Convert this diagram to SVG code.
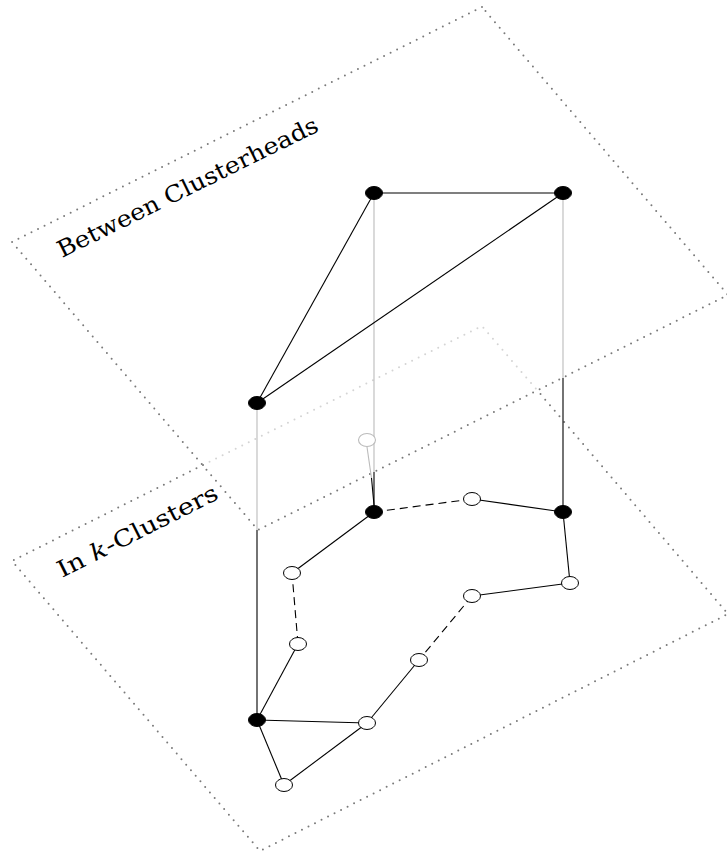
<svg xmlns="http://www.w3.org/2000/svg" width="727" height="855" viewBox="0 0 727 855">
<style>
.plane{fill:none;stroke:#7a7a7a;stroke-width:2;stroke-dasharray:0 7.3;stroke-linecap:round}
.hidden{fill:none;stroke:#d4d4d4;stroke-width:2;stroke-dasharray:0 7.3;stroke-linecap:round}
.edge{stroke:#000;stroke-width:1.1;fill:none}
.dash{stroke:#000;stroke-width:1.1;fill:none;stroke-dasharray:8 5}
.ghost{stroke:#bbb;stroke-width:1.1;fill:none}
.ch{fill:#000;stroke:#000;stroke-width:1}
.nd{fill:#fff;stroke:#000;stroke-width:1}
.gn{fill:#fff;stroke:#bbb;stroke-width:1.1}
.lbl{font-family:"DejaVu Serif","Liberation Serif",serif;font-size:23px;fill:#000}
</style>
<g id="planes">
<polygon class="plane" points="482,7 12,242 258,530 728,295"/>
<polyline class="hidden" points="203,465 482,326 537,390"/>
<polyline class="plane" points="203,465 12,561 260,851 728,614 537,390"/>
</g>
<g id="connectors">
<line class="ghost" x1="374" y1="193" x2="374" y2="472"/>
<line class="edge" x1="374" y1="472" x2="374" y2="512"/>
<line class="ghost" x1="563" y1="193" x2="563" y2="378"/>
<line class="edge" x1="563" y1="378" x2="563" y2="512"/>
<line class="ghost" x1="257" y1="403" x2="257" y2="530"/>
<line class="edge" x1="257" y1="530" x2="257" y2="720"/>
<line class="ghost" x1="367" y1="447" x2="371.5" y2="478"/>
<line class="edge" x1="371.5" y1="478" x2="374" y2="505"/>
<line class="edge" x1="374" y1="193" x2="563" y2="193"/>
<line class="edge" x1="374" y1="193" x2="257" y2="403"/>
<line class="edge" x1="563" y1="193" x2="257" y2="403"/>
<line class="dash" x1="374" y1="512" x2="472" y2="499"/>
<line class="edge" x1="472" y1="499" x2="563" y2="512"/>
<line class="edge" x1="563" y1="512" x2="570" y2="583"/>
<line class="edge" x1="570" y1="583" x2="472" y2="596"/>
<line class="dash" x1="472" y1="596" x2="419" y2="660"/>
<line class="edge" x1="419" y1="660" x2="367" y2="723"/>
<line class="edge" x1="367" y1="723" x2="257" y2="720"/>
<line class="edge" x1="257" y1="720" x2="284" y2="785"/>
<line class="edge" x1="284" y1="785" x2="367" y2="723"/>
<line class="edge" x1="257" y1="720" x2="298" y2="644"/>
<line class="dash" x1="298" y1="644" x2="292" y2="573"/>
<line class="edge" x1="292" y1="573" x2="374" y2="512"/>
</g>
<g id="ghost"><ellipse class="gn" cx="367" cy="440" rx="8.5" ry="6.5"/></g>
<g id="nA"><ellipse class="ch" cx="374" cy="193" rx="8.5" ry="6.5"/></g>
<g id="nB"><ellipse class="ch" cx="563" cy="193" rx="8.5" ry="6.5"/></g>
<g id="nC"><ellipse class="ch" cx="257" cy="403" rx="8.5" ry="6.5"/></g>
<g id="nD"><ellipse class="ch" cx="374" cy="512" rx="8.5" ry="6.5"/></g>
<g id="nE"><ellipse class="nd" cx="472" cy="499" rx="8.5" ry="6.5"/></g>
<g id="nF"><ellipse class="ch" cx="563" cy="512" rx="8.5" ry="6.5"/></g>
<g id="nG"><ellipse class="nd" cx="570" cy="583" rx="8.5" ry="6.5"/></g>
<g id="nH"><ellipse class="nd" cx="472" cy="596" rx="8.5" ry="6.5"/></g>
<g id="nI"><ellipse class="nd" cx="419" cy="660" rx="8.5" ry="6.5"/></g>
<g id="nJ"><ellipse class="nd" cx="367" cy="723" rx="8.5" ry="6.5"/></g>
<g id="nK"><ellipse class="ch" cx="257" cy="720" rx="8.5" ry="6.5"/></g>
<g id="nL"><ellipse class="nd" cx="284" cy="785" rx="8.5" ry="6.5"/></g>
<g id="nM"><ellipse class="nd" cx="298" cy="644" rx="8.5" ry="6.5"/></g>
<g id="nN"><ellipse class="nd" cx="292" cy="573" rx="8.5" ry="6.5"/></g>
<g id="labels">
<text class="lbl" transform="translate(62,258) rotate(-26.3)" textLength="288" lengthAdjust="spacingAndGlyphs">Between Clusterheads</text>
<text class="lbl" transform="translate(62,578) rotate(-26.8)" textLength="177" lengthAdjust="spacingAndGlyphs">In <tspan font-style="italic">k</tspan>-Clusters</text>
</g>
</svg>
